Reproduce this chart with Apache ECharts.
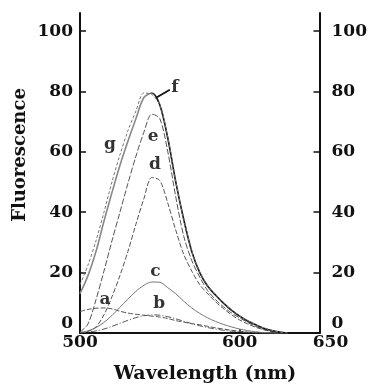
<!DOCTYPE html>
<html><head><meta charset="utf-8">
<script src="https://cdn.jsdelivr.net/npm/echarts@6/dist/echarts.min.js"></script>
<style>html,body{margin:0;padding:0;background:#fff}#c{width:370px;height:385px}</style>
</head><body><div id="c"></div>
<script>
const wavelength = [500,505,510,515,520,525,530,535,540,545,550,555,560,565,570,575,580,585,590,595,600,605,610,615,620,625,630];
const curveA = [7.1,7.8,8.2,8.3,8.0,7.2,6.6,6.2,5.9,5.6,5.3,4.8,4.1,3.6,3.1,2.7,2.2,1.7,1.3,0.9,0.6,0.3,0.1,0,0,0,0];
const curveB = [0.1,0.3,0.7,1.3,2.2,3.2,4.2,5.1,5.7,6.0,5.9,5.4,4.7,3.9,3.1,2.4,1.8,1.3,0.9,0.6,0.4,0.2,0.1,0,0,0,0];
const curveC = [0.2,0.7,1.8,3.5,5.8,8.5,11.2,13.8,15.8,16.9,16.8,15.0,13.0,10.5,8.3,6.5,5.0,3.8,2.8,2.0,1.3,0.8,0.4,0.15,0,0,0];
const curveD = [0,0.5,2,6,12,19,27,36,44.5,51.5,50.5,43,34,26,20.5,16,13,10.3,8,6,4.3,3,1.9,1.1,0.5,0.1,0];
const curveE = [0.3,3,11,20.5,30.5,40,49.5,58.5,66.5,72.5,71,60,45,32,24,18.5,14,11,8.6,6.6,5,3.5,2.2,1.2,0.5,0.1,0];
const curveF = [13,19,27,37,46.5,55.5,63.5,71,78,79.5,75.5,64.5,50,37.5,27,20,15.5,12.5,9.8,7.5,5.6,4,2.7,1.6,0.8,0.3,0];
const curveG = [16,22.5,30.5,40,50,59,67,73.5,79.5,79,75.5,64.8,50.2,37.6,27.1,20.1,15.6,12.6,9.9,7.6,5.7,4.1,2.8,1.7,0.9,0.3,0];
const curveNames = ['a','b','c','d','e','f','g'];
const labelX = [515.6,549.6,547.3,546.9,545.8,559.4,518.75];
const labelY = [11.0,9.9,20.4,55.8,65.2,81.4,62.5];
const leaderX = [547.9,556.25];
const leaderY = [78,80.6];
const yTicks = [0,20,40,60,80,100];
const xLabelTicks = [500,600,650];
const xMinorTicks = [600];

const curves = [curveA,curveB,curveC,curveD,curveE,curveF,curveG];
const fGradient = {type:'linear', x:0, y:0, x2:1, y2:0, colorStops:[
  {offset:0, color:'#888'},{offset:0.33, color:'#888'},{offset:0.37, color:'#111'},{offset:1, color:'#111'}]};
const styles = [
  {type:[5,2], width:1, color:'#555'},
  {type:[6,2,1,2], width:1, color:'#555'},
  {type:'solid', width:1, color:'#777'},
  {type:[5,2], width:1, color:'#555'},
  {type:[6,2], width:1, color:'#555'},
  {type:'solid', width:1.6, color:fGradient},
  {type:[3,2], width:1, color:'#777'}
];
const FONT = 'DejaVu Serif';
const series = curves.map((c,i)=>({
  type:'line', name:curveNames[i], smooth:0.3, symbol:'none',
  data: wavelength.map((w,j)=>[w,c[j]]),
  lineStyle: styles[i], z:3
}));
series.push({
  type:'line', symbol:'none', data: leaderX.map((x,i)=>[x,leaderY[i]]),
  lineStyle:{color:'#111', width:1.8}, z:4
});
series.push({
  type:'scatter', symbolSize:0, z:5,
  data: curveNames.map((n,i)=>[labelX[i],labelY[i],n]),
  label:{show:true, position:'inside', formatter:p=>p.value[2],
    fontFamily:FONT, fontWeight:'bold', fontSize:17, color:'#000'}
});

const chart = echarts.init(document.getElementById('c'), null, {renderer:'canvas'});
const labelBase = {fontFamily:FONT, fontWeight:'bold', fontSize:17, color:'#111'};
function yAxisCfg(pos, margin){
  return {
    type:'value', position:pos, min:0, max:106,
    axisLine:{show:true, onZero:false, lineStyle:{color:'#111', width:2}},
    axisTick:{show:true, inside:true, length:6, customValues:yTicks, lineStyle:{color:'#111', width:1.5}},
    axisLabel:Object.assign({}, labelBase, {customValues:yTicks, margin:margin,
      formatter:v=> v===0 ? '{z|0}' : String(v),
      rich:{z:Object.assign({}, labelBase, {padding:[0,0,18,0]})}}),
    splitLine:{show:false}
  };
}
chart.setOption({
  animation:false,
  backgroundColor:'#fff',
  grid:{left:80, right:50, top:13, bottom:52, containLabel:false},
  xAxis:{
    type:'value', min:500, max:650,
    axisLine:{show:true, onZero:false, lineStyle:{color:'#111', width:2}},
    axisTick:{show:true, inside:true, length:4, customValues:xMinorTicks, lineStyle:{color:'#111', width:1.5}},
    axisLabel:Object.assign({}, labelBase, {customValues:xLabelTicks, margin:1,
      formatter:v=> v===650 ? '{r|650}' : String(v),
      rich:{r:Object.assign({}, labelBase, {padding:[0,0,0,22]})}}),
    splitLine:{show:false}
  },
  yAxis:[yAxisCfg('left',7), yAxisCfg('right',12)],
  graphic:[
    {type:'text', x:20, y:155, rotation:Math.PI/2,
      style:{text:'Fluorescence', font:'bold 18px "DejaVu Serif"', fill:'#111', align:'center', verticalAlign:'middle'}},
    {type:'text', x:205, y:374,
      style:{text:'Wavelength (nm)', font:'bold 19px "DejaVu Serif"', fill:'#111', align:'center', verticalAlign:'middle'}}
  ],
  series:series
});
</script>
</body></html>
